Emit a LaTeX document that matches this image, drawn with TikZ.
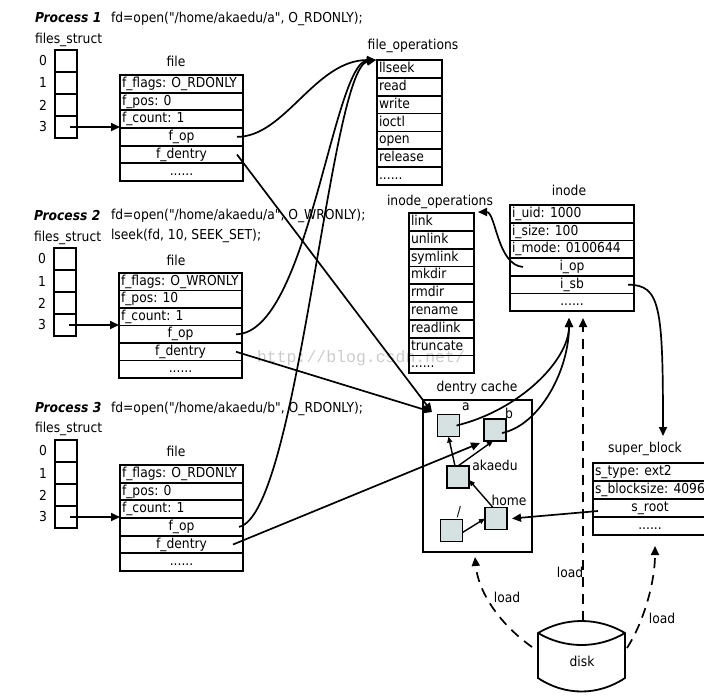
\documentclass[tikz,border=0pt]{standalone}
\usepackage{fontspec}
\IfFontExistsTF{DejaVu Sans Condensed}{\setmainfont{DejaVu Sans Condensed}}{\setmainfont{DejaVu Sans}[FakeStretch=0.9]}
\newfontfamily\wmfont{Liberation Mono}
\usetikzlibrary{arrows.meta}
\definecolor{dfill}{RGB}{214,226,226}
\newcommand{\rdots}{......}
\newcommand{\qd}{\textquotedbl}
\tikzset{
  cell/.style={draw, line width=1.8pt, minimum width=22pt, minimum height=22pt, inner sep=0pt, outer sep=0pt, anchor=north west},
  recrow/.style={draw, line width=1.8pt, inner xsep=2pt, inner ysep=0pt, outer sep=0pt, text height=10pt, text depth=3pt, anchor=north west},
  lbl/.style={inner sep=0pt, outer sep=0pt},
  arr/.style={line width=1.7pt, -{Triangle[length=9pt,width=8pt]}},
  sarr/.style={line width=1.4pt, -{Triangle[length=6pt,width=5pt]}},
  dcell/.style={draw, line width=1.8pt, fill=dfill, minimum size=22pt, inner sep=0pt, outer sep=0pt},
  loadline/.style={dash pattern=on 10pt off 7pt},
}
\newcommand{\record}[6]{%
  \pgfmathsetmacro{\rtw}{#4-4}%
  \foreach \al/\txt [count=\i] in {#6} {
    \node[recrow, minimum width=#4 pt, minimum height=#5 pt] (#1-\i) at (#2, {#3+(\i-1)*#5}) {\makebox[\rtw pt][\al]{\txt}};
  }%
}
\newcommand{\fstruct}[3]{%
  \foreach \k in {0,1,2,3} {
    \node[cell] (#1-\k) at (#2, {#3+22*\k}) {};
    \node[lbl] (#1-n\k) at ({#2-12}, {#3+22*\k+11}) {\k};
  }%
}
\begin{document}
\begin{tikzpicture}[x=1pt, y=-1pt, font=\fontsize{13.7}{16}\selectfont]
\useasboundingbox (0,0) rectangle (704,697);
% watermark
\node[lbl, anchor=west, text=black!20, font=\wmfont\fontsize{16.5}{18}\selectfont] (wm) at (257,358) {http://blog.csdn.net/};

% ---------- Process 1 ----------
\node[lbl, anchor=west, font=\fontsize{13.7}{16}\selectfont\bfseries\itshape] (p1) at (35,18) {Process 1};
\node[lbl, anchor=west] (p1cmd) at (111,19) {fd=open(\qd/home/akaedu/a\qd, O\_RDONLY);};
\node[lbl, anchor=west] (p1fs) at (35,40) {files\_struct};
\fstruct{p1c}{55}{50}
\node[lbl] (p1fl) at (176,61) {file};
\record{p1f}{120}{75}{123}{17.67}{l/f\_flags: O\_RDONLY, l/f\_pos: 0, l/f\_count: 1, c/f\_op, c/f\_dentry, c/\rdots}

% ---------- Process 2 ----------
\node[lbl, anchor=west, font=\fontsize{13.7}{16}\selectfont\bfseries\itshape] (p2) at (34,216) {Process 2};
\node[lbl, anchor=west] (p2cmd) at (111,216) {fd=open(\qd/home/akaedu/a\qd, O\_WRONLY);};
\node[lbl, anchor=west] (p2cmdb) at (111,236) {lseek(fd, 10, SEEK\_SET);};
\node[lbl, anchor=west] (p2fs) at (34,238) {files\_struct};
\fstruct{p2c}{54}{248}
\node[lbl] (p2fl) at (176,260) {file};
\record{p2f}{119}{273}{123}{17.5}{l/f\_flags: O\_WRONLY, l/f\_pos: 10, l/f\_count: 1, c/f\_op, c/f\_dentry, c/\rdots}

% ---------- Process 3 ----------
\node[lbl, anchor=west, font=\fontsize{13.7}{16}\selectfont\bfseries\itshape] (p3) at (35,408) {Process 3};
\node[lbl, anchor=west] (p3cmd) at (111,409) {fd=open(\qd/home/akaedu/b\qd, O\_RDONLY);};
\node[lbl, anchor=west] (p3fs) at (35,429) {files\_struct};
\fstruct{p3c}{55}{440}
\node[lbl] (p3fl) at (176,451) {file};
\record{p3f}{120}{465}{123}{17.67}{l/f\_flags: O\_RDONLY, l/f\_pos: 0, l/f\_count: 1, c/f\_op, c/f\_dentry, c/\rdots}

% ---------- file_operations ----------
\node[lbl] (folbl) at (413,46) {file\_operations};
\record{fo}{377}{60}{65}{17.86}{l/llseek, l/read, l/write, l/ioctl, l/open, l/release, l/\rdots}

% ---------- inode_operations ----------
\node[lbl] (iolbl) at (440,202) {inode\_operations};
\record{io}{409}{213}{65}{17.8}{l/link, l/unlink, l/symlink, l/mkdir, l/rmdir, l/rename, l/readlink, l/truncate, l/\rdots}

% ---------- inode ----------
\node[lbl] (inlbl) at (569,190) {inode};
\record{in}{510}{205}{124}{17.7}{l/i\_uid: 1000, l/i\_size: 100, l/i\_mode: 0100644, c/i\_op, c/i\_sb, c/\rdots}

% ---------- super_block ----------
\node[lbl] (sblbl) at (645,449) {super\_block};
\record{sb}{593}{463}{114}{18}{l/s\_type: ext2, l/s\_blocksize: 4096, c/s\_root, c/\rdots}

% ---------- dentry cache ----------
\node[lbl] (dclbl) at (477,388) {dentry cache};
\node[draw, line width=1.8pt, minimum width=109pt, minimum height=152pt, inner sep=0pt, outer sep=0pt, anchor=north west] (dc) at (423,400) {};
\node[dcell] (da) at (448.5,425.5) {};
\node[dcell] (db) at (495,430) {};
\node[dcell] (dk) at (458,477) {};
\node[dcell] (dh) at (496,518.5) {};
\node[dcell] (dr) at (451.5,530.5) {};
\node[lbl] (dal) at (466,407) {a};
\node[lbl] (dbl) at (509,413) {b};
\node[lbl] (dkl) at (495,465) {akaedu};
\node[lbl] (dhl) at (509,500) {home};
\node[lbl] (drl) at (459,512) {/};

% ---------- disk ----------
\draw[line width=1.8pt] (538,633) .. controls (565,617) and (598,617) .. (625,633) -- (625,678)
  .. controls (598,696) and (565,696) .. (538,678) -- cycle;
\draw[line width=1.8pt] (538,633) .. controls (565,649) and (598,649) .. (625,633);
\node[lbl] (disk) at (582,661) {disk};

% ---------- tip coordinates ----------
\coordinate (fotip) at (376,60);
\coordinate (dtip) at (432,412);
\coordinate (bttip) at (480,443);
\coordinate (itip) at (569,318);
\coordinate (ldtip) at (583,318);
\coordinate (iotip) at (478,212);
\coordinate (sbtip) at (663,436);
\coordinate (dctip) at (475,557);
\coordinate (sbbtip) at (655,546);
\coordinate (dskl) at (532,647);
\coordinate (dskt) at (583,621);
\coordinate (dskr) at (627,648);

% ---------- connectors ----------
\foreach \p in {p1,p2,p3} {
  \draw[arr] ([xshift=4pt]\p c-3.center) -- (\p c-3.center -| \p f-1.west);
}
\draw[arr] ([xshift=-6pt]p1f-4.east) .. controls (285,137) and (315,60) .. (fotip);
\draw[arr] ([xshift=-6pt]p2f-4.east) .. controls (308,334) and (333,62) .. (fotip);
\draw[arr] ([xshift=-4pt]p3f-4.east) .. controls (298,515) and (330,68) .. (fotip);

\draw[arr] ([xshift=-6pt]p1f-5.east) -- (dtip);
\draw[arr] ([xshift=-6pt]p2f-5.east) -- (dtip);
\draw[arr] ([xshift=-10pt]p3f-5.east) -- (bttip);

\draw[arr] ([xshift=8pt]da.center) .. controls (520,410) and (569,360) .. (itip);
\draw[arr] ([xshift=7pt,yshift=-3pt]db.center) .. controls (540,425) and (569,370) .. (itip);

\draw[arr] ([xshift=13pt]in-4.west) .. controls (497,265) and (496,212) .. (iotip);
\draw[arr] ([xshift=-6pt]in-5.east) .. controls (660,285) and (663,305) .. (sbtip);
\draw[arr] ([xshift=5pt,yshift=-3pt]sb-3.west) -- ([xshift=5pt]dh.east);

\draw[sarr] ([xshift=-3pt]dk.north) -- (da.south);
\draw[sarr] (dk.north) -- ([xshift=-2pt]db.south);
\draw[sarr] ([xshift=-3pt]dh.north) -- ([yshift=-3pt]dk.east);
\draw[sarr] ([yshift=-2pt]dr.east) -- (dh.west);

\draw[arr, loadline] (dskl) .. controls (497,622) and (478,590) .. (dctip);
\draw[arr, loadline] (dskt) -- (ldtip);
\draw[arr, loadline] (dskr) .. controls (642,625) and (655,585) .. (sbbtip);
\node[lbl] (ld1) at (507,597) {load};
\node[lbl] (ld2) at (570,572) {load};
\node[lbl] (ld3) at (662,618) {load};
\end{tikzpicture}
\end{document}
